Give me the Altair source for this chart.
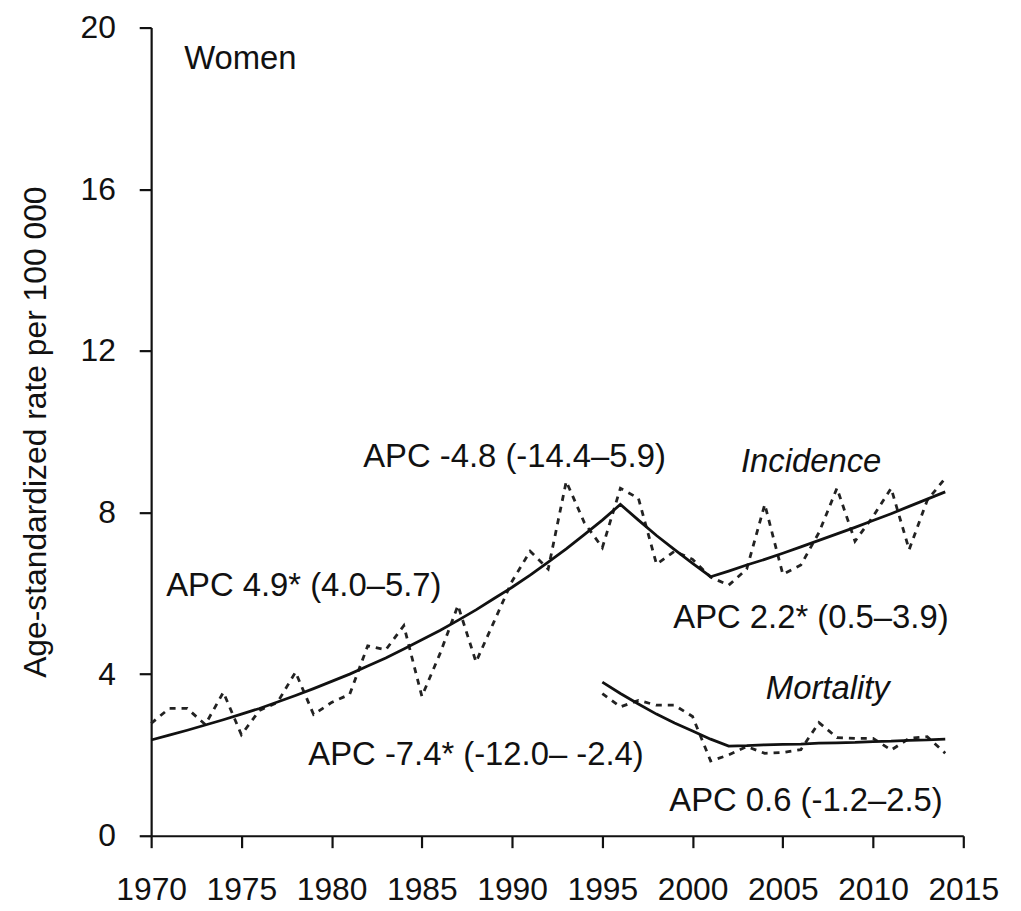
import altair as alt
import pandas as pd

# ---- data ----
inc_years = list(range(1970, 2015))
inc_observed = [2.78, 3.15, 3.15, 2.75, 3.55, 2.50, 3.10, 3.30, 4.05, 3.00,
                3.30, 3.50, 4.70, 4.60, 5.20, 3.45, 4.50, 5.70, 4.30, 5.30,
                6.30, 7.04, 6.60, 8.77, 7.75, 7.13, 8.60, 8.35, 6.72, 7.04,
                6.84, 6.40, 6.20, 6.60, 8.20, 6.47, 6.70, 7.50, 8.60, 7.29,
                7.90, 8.60, 7.08, 8.30, 8.85]
inc_fitted = [2.37, 2.49, 2.61, 2.74, 2.87, 3.01, 3.15, 3.31, 3.47, 3.64,
              3.82, 4.00, 4.20, 4.40, 4.62, 4.85, 5.08, 5.33, 5.59, 5.87,
              6.15, 6.45, 6.77, 7.10, 7.45, 7.81, 8.20, 7.81, 7.43, 7.08,
              6.74, 6.41, 6.55, 6.70, 6.84, 6.99, 7.15, 7.31, 7.47, 7.63,
              7.80, 7.97, 8.15, 8.33, 8.51]

mort_years = list(range(1995, 2015))
mort_observed = [3.52, 3.19, 3.35, 3.23, 3.23, 2.95, 1.85, 2.00, 2.21, 2.04,
                 2.06, 2.13, 2.80, 2.43, 2.41, 2.41, 2.12, 2.41, 2.45, 2.04]
mort_fitted = [3.80, 3.52, 3.26, 3.01, 2.79, 2.59, 2.39, 2.22, 2.23, 2.25,
               2.26, 2.27, 2.29, 2.30, 2.31, 2.33, 2.34, 2.36, 2.37, 2.39]

x_ticks = [1970, 1975, 1980, 1985, 1990, 1995, 2000, 2005, 2010, 2015]
y_ticks = [0, 4, 8, 12, 16, 20]

label_text = ["Women", "APC 4.9* (4.0–5.7)", "APC -4.8 (-14.4–5.9)",
              "APC 2.2* (0.5–3.9)", "APC -7.4* (-12.0– -2.4)", "APC 0.6 (-1.2–2.5)"]
label_x = [1971.83, 1970.83, 1981.75, 1998.93, 1978.71, 1998.71]
label_y = [18.97, 5.94, 9.13, 5.14, 1.75, 0.62]

italic_text = ["Incidence", "Mortality"]
italic_x = [2002.68, 2004.06]
italic_y = [9.01, 3.39]

# ---- tables ----
rows = []
for yr, v in zip(inc_years, inc_observed):
    rows.append({"year": yr, "value": v, "series": "inc_obs", "kind": "observed"})
for yr, v in zip(inc_years, inc_fitted):
    rows.append({"year": yr, "value": v, "series": "inc_fit", "kind": "fitted"})
for yr, v in zip(mort_years, mort_observed):
    rows.append({"year": yr, "value": v, "series": "mort_obs", "kind": "observed"})
for yr, v in zip(mort_years, mort_fitted):
    rows.append({"year": yr, "value": v, "series": "mort_fit", "kind": "fitted"})
df = pd.DataFrame(rows)

labels = pd.DataFrame({"x": label_x, "y": label_y, "text": label_text})
italics = pd.DataFrame({"x": italic_x, "y": italic_y, "text": italic_text})

FONT = "Liberation Sans"

x_scale = alt.Scale(domain=[1970, 2015], nice=False, zero=False)
y_scale = alt.Scale(domain=[0, 20], nice=False)

x_enc = alt.X("year:Q", scale=x_scale,
              axis=alt.Axis(values=x_ticks, format="d", title=None,
                            labelPadding=27, labelFlush=False))
y_enc = alt.Y("value:Q", scale=y_scale,
              axis=alt.Axis(values=y_ticks, title="Age-standardized rate per 100 000",
                            labelPadding=24, titleX=-116, titleY=406.5,
                            titleAngle=270, titleAlign="center",
                            titleBaseline="middle"))

fitted = alt.Chart(df).transform_filter(alt.datum.kind == "fitted").mark_line(
    color="#111111", strokeWidth=2.8
).encode(x=x_enc, y=y_enc, detail="series:N", order="year:Q")

observed = alt.Chart(df).transform_filter(alt.datum.kind == "observed").mark_line(
    color="#222222", strokeWidth=2.8, strokeDash=[6, 6]
).encode(x=x_enc, y=y_enc, detail="series:N", order="year:Q")

txt = alt.Chart(labels).mark_text(
    align="left", baseline="alphabetic", fontSize=33, font=FONT, color="#111111"
).encode(x=alt.X("x:Q", scale=x_scale), y=alt.Y("y:Q", scale=y_scale), text="text:N")

itxt = alt.Chart(italics).mark_text(
    align="left", baseline="alphabetic", fontSize=33, font=FONT, fontStyle="italic",
    color="#111111"
).encode(x=alt.X("x:Q", scale=x_scale), y=alt.Y("y:Q", scale=y_scale), text="text:N")

chart = alt.layer(observed, fitted, txt, itxt).properties(
    width=817, height=813,
    autosize=alt.AutoSizeParams(type="none"),
    padding={"left": 144, "top": 17, "right": 50, "bottom": 70},
).configure_view(stroke=None).configure_axis(
    grid=False,
    domainColor="#111111", domainWidth=2.2,
    tickColor="#111111", tickWidth=2.2, tickSize=12,
    labelFont=FONT, labelFontSize=32, labelColor="#111111",
    titleFont=FONT, titleFontSize=32, titleFontWeight="normal", titleColor="#111111",
)

chart.save("out.html", embed_options={"renderer": "svg", "actions": False})
